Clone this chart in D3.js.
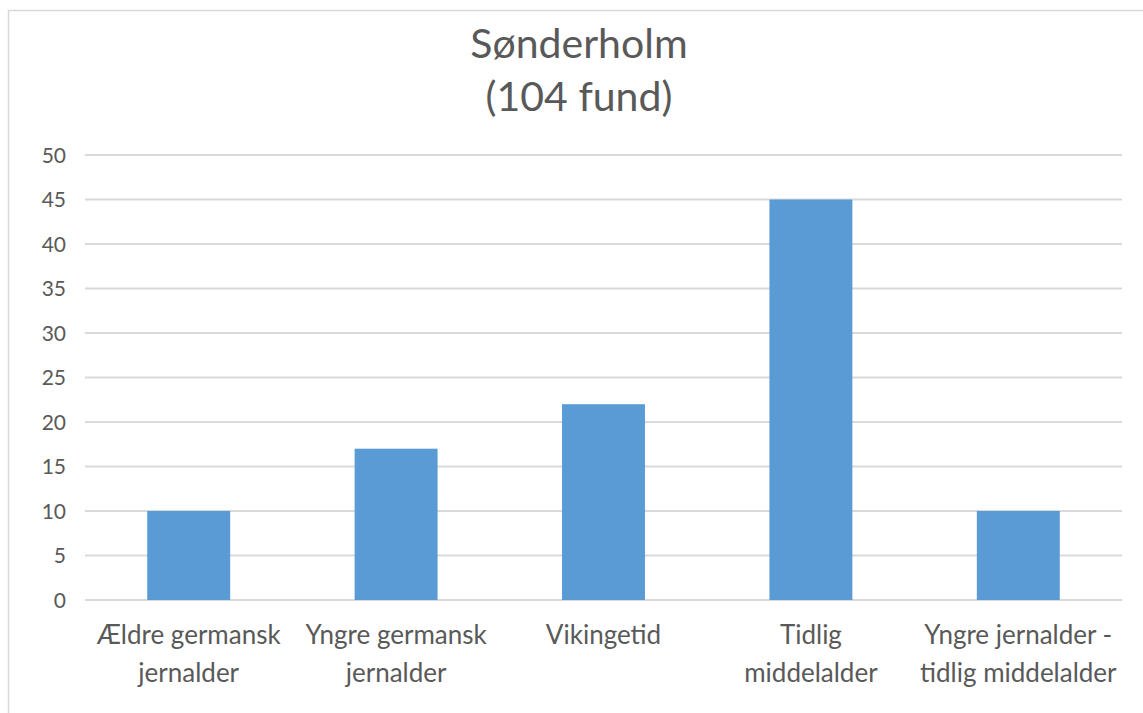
<!DOCTYPE html>
<html>
<head>
<meta charset="utf-8">
<script src="https://cdn.jsdelivr.net/npm/d3@7"></script>
<style>
  body { margin: 0; background: #fff; }
  svg text { font-family: Lato, "Open Sans", sans-serif; fill: #595959; }
</style>
</head>
<body>
<div id="chart"></div>
<script>
const categories = [
    ["Ældre germansk", "jernalder"],
    ["Yngre germansk", "jernalder"],
    ["Vikingetid"],
    ["Tidlig", "middelalder"],
    ["Yngre jernalder -", "tidlig middelalder"]
];
const values = [10, 17, 22, 45, 10];
const yTicks = [0, 5, 10, 15, 20, 25, 30, 35, 40, 45, 50];
const titleLines = ["Sønderholm", "(104 fund)"];

const width = 1143;
const height = 713;
const margin = { top: 155, right: 21, bottom: 113, left: 85 };

const svg = d3.select("#chart").append("svg")
    .attr("width", width)
    .attr("height", height);

// ramme om diagrammet
svg.append("rect")
    .attr("x", 8.5).attr("y", 10.5)
    .attr("width", width + 10).attr("height", height + 10)
    .attr("fill", "none")
    .attr("stroke", "#d9d9d9")
    .attr("stroke-width", 1.5);

const x = d3.scaleBand()
    .domain(d3.range(values.length))
    .range([margin.left, width - margin.right])
    .paddingInner(0.6)
    .paddingOuter(0.3);

const y = d3.scaleLinear()
    .domain([0, 50])
    .range([height - margin.bottom, margin.top]);

// gitterlinjer
svg.append("g")
    .selectAll("line")
    .data(yTicks)
    .enter().append("line")
    .attr("x1", margin.left)
    .attr("x2", width - margin.right)
    .attr("y1", d => y(d))
    .attr("y2", d => y(d))
    .attr("stroke", "#d9d9d9")
    .attr("stroke-width", 2);

// y-akse
const yAxis = svg.append("g")
    .attr("transform", `translate(${margin.left - 19},0)`)
    .call(d3.axisLeft(y).tickValues(yTicks).tickSize(0).tickPadding(0));
yAxis.select(".domain").remove();
yAxis.selectAll("text")
    .attr("font-size", "21px")
    .attr("dy", "0.35em");

// søjler
svg.append("g")
    .selectAll("rect")
    .data(values)
    .enter().append("rect")
    .attr("x", (d, i) => x(i))
    .attr("width", x.bandwidth())
    .attr("y", d => y(d))
    .attr("height", d => y(0) - y(d))
    .attr("fill", "#5b9bd5");

// kategorier
const labels = svg.append("g")
    .selectAll("text")
    .data(categories)
    .enter().append("text")
    .attr("text-anchor", "middle")
    .attr("font-size", "26px")
    .attr("transform", (d, i) => `translate(${x(i) + x.bandwidth() / 2},${y(0) + 44})`);
labels.selectAll("tspan")
    .data(d => d)
    .enter().append("tspan")
    .attr("x", 0)
    .attr("y", (d, i) => i * 38)
    .text(d => d);

// titel
svg.append("g")
    .selectAll("text")
    .data(titleLines)
    .enter().append("text")
    .attr("x", 579)
    .attr("y", (d, i) => 58 + i * 53)
    .attr("text-anchor", "middle")
    .attr("font-size", "41px")
    .text(d => d);
</script>
</body>
</html>
